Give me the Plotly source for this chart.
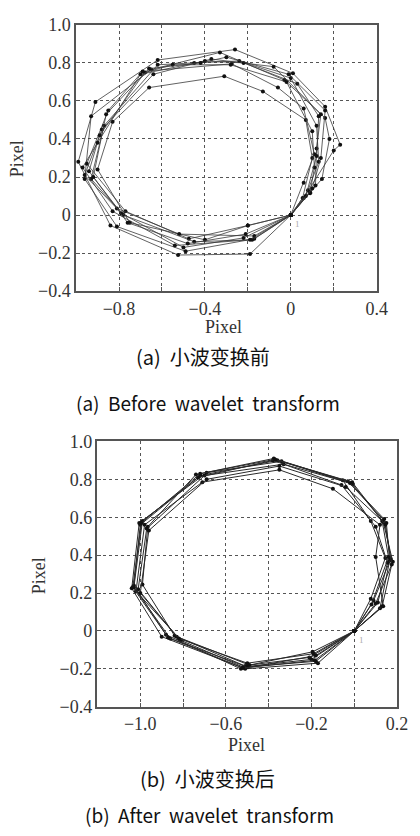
import plotly.graph_objects as go

# ---- data: (a) before wavelet transform, one list per trajectory loop ----
before_x = [
    [0, 0.06, 0.20, 0.23, 0.16, 0.01, -0.26, -0.62, -0.91, -0.99, -0.84, -0.525, -0.19, 0],
    [0, 0.09, 0.145, 0.18, 0.16, -0.03, -0.33, -0.65, -0.93, -0.96, -0.81, -0.49, -0.17, 0],
    [0, 0.055, 0.10, 0.07, -0.13, -0.31, -0.66, -0.83, -0.90, -0.75, -0.40, -0.20, 0],
    [0, 0.06, 0.11, 0.06, -0.06, -0.275, -0.69, -0.85, -0.95, -0.77, -0.475, -0.20, 0],
    [0, 0.115, 0.12, 0.14, -0.08, -0.37, -0.64, -0.88, -0.96, -0.81, -0.52, -0.17, 0],
    [0, 0.08, 0.13, 0.12, 0.0, -0.24, -0.45, -0.62, -0.87, -0.93, -0.78, -0.45, -0.18, 0],
    [0, 0.09, 0.11, 0.10, -0.02, -0.28, -0.55, -0.68, -0.89, -0.94, -0.79, -0.50, -0.22, 0],
    [0, 0.07, 0.12, 0.13, 0.03, -0.22, -0.40, -0.70, -0.90, -0.97, -0.83, -0.54, -0.19, 0],
    [0, 0.10, 0.14, 0.16, -0.01, -0.30, -0.42, -0.66, -0.86, -0.92, -0.76, -0.48, -0.21, 0],
]
before_y = [
    [0, 0.09, 0.34, 0.37, 0.57, 0.745, 0.87, 0.815, 0.595, 0.28, -0.055, -0.21, -0.205, 0],
    [0, 0.115, 0.19, 0.40, 0.51, 0.71, 0.855, 0.765, 0.52, 0.19, -0.06, -0.19, -0.125, 0],
    [0, 0.09, 0.30, 0.50, 0.65, 0.73, 0.67, 0.49, 0.24, -0.04, -0.13, -0.055, 0],
    [0, 0.17, 0.32, 0.56, 0.67, 0.795, 0.755, 0.55, 0.27, 0.02, -0.125, -0.055, 0],
    [0, 0.155, 0.35, 0.53, 0.78, 0.82, 0.74, 0.45, 0.21, 0.035, -0.10, -0.11, 0],
    [0, 0.13, 0.28, 0.47, 0.72, 0.81, 0.80, 0.79, 0.47, 0.19, 0.0, -0.14, -0.13, 0],
    [0, 0.12, 0.25, 0.44, 0.70, 0.79, 0.79, 0.75, 0.42, 0.23, 0.01, -0.17, -0.12, 0],
    [0, 0.10, 0.31, 0.52, 0.69, 0.80, 0.81, 0.74, 0.38, 0.25, 0.02, -0.16, -0.13, 0],
    [0, 0.14, 0.30, 0.55, 0.74, 0.83, 0.80, 0.77, 0.53, 0.20, -0.04, -0.15, -0.10, 0],
]

# ---- data: (b) after wavelet transform ----
after_x = [
    [0, 0.10, 0.18, 0.135, -0.009, -0.34, -0.69, -1.005, -1.04, -0.90, -0.51, -0.17, 0],
    [0, 0.077, 0.145, 0.077, -0.054, -0.376, -0.74, -0.965, -0.99, -0.84, -0.51, -0.195, 0],
    [0, 0.135, 0.10, 0.12, -0.10, -0.35, -0.71, -0.98, -1.02, -0.81, -0.52, -0.20, 0],
    [0, 0.12, 0.165, 0.15, -0.03, -0.36, -0.72, -0.99, -1.03, -0.86, -0.50, -0.18, 0],
    [0, 0.09, 0.17, 0.14, -0.02, -0.33, -0.70, -0.97, -1.01, -0.83, -0.49, -0.21, 0],
    [0, 0.11, 0.155, 0.10, -0.06, -0.38, -0.73, -1.00, -1.03, -0.88, -0.53, -0.18, 0],
    [0, 0.08, 0.16, 0.13, -0.04, -0.35, -0.69, -0.96, -1.00, -0.82, -0.50, -0.19, 0],
    [0, 0.13, 0.175, 0.145, -0.01, -0.37, -0.72, -0.995, -1.035, -0.87, -0.52, -0.185, 0],
]
after_y = [
    [0, 0.145, 0.365, 0.575, 0.775, 0.895, 0.835, 0.57, 0.225, -0.03, -0.20, -0.17, 0],
    [0, 0.17, 0.385, 0.58, 0.795, 0.91, 0.825, 0.55, 0.245, -0.025, -0.185, -0.11, 0],
    [0, 0.13, 0.39, 0.56, 0.75, 0.85, 0.785, 0.56, 0.21, -0.05, -0.19, -0.15, 0],
    [0, 0.12, 0.37, 0.57, 0.79, 0.90, 0.82, 0.58, 0.23, -0.04, -0.19, -0.16, 0],
    [0, 0.16, 0.38, 0.59, 0.78, 0.88, 0.82, 0.54, 0.22, -0.03, -0.18, -0.14, 0],
    [0, 0.15, 0.36, 0.55, 0.77, 0.90, 0.81, 0.56, 0.24, -0.02, -0.20, -0.13, 0],
    [0, 0.14, 0.39, 0.58, 0.76, 0.87, 0.80, 0.53, 0.20, -0.04, -0.17, -0.12, 0],
    [0, 0.13, 0.35, 0.56, 0.785, 0.905, 0.83, 0.57, 0.23, -0.035, -0.195, -0.155, 0],
]

top_xticks = [-1.0, -0.8, -0.6, -0.4, -0.2, 0.0, 0.2, 0.4]
top_xtext = ["", "−0.8", "", "−0.4", "", "0", "", "0.4"]
bot_xticks = [-1.2, -1.0, -0.8, -0.6, -0.4, -0.2, 0.0, 0.2]
bot_xtext = ["", "−1.0", "", "−0.6", "", "−0.2", "", "0.2"]
yticks = [-0.4, -0.2, 0.0, 0.2, 0.4, 0.6, 0.8, 1.0]
ytext = ["−0.4", "−0.2", "0", "0.2", "0.4", "0.6", "0.8", "1.0"]

captions = ["(a)  小波变换前", "(a)  Before  wavelet  transform",
            "(b)  小波变换后", "(b)  After  wavelet  transform"]
axis_title = "Pixel"

fig = go.Figure()
for xs, ys in zip(before_x, before_y):
    fig.add_trace(go.Scatter(x=xs, y=ys, xaxis="x", yaxis="y", mode="lines+markers",
                             line=dict(color="#3a3a3a", width=0.8),
                             marker=dict(color="#111", size=4), showlegend=False))
for xs, ys in zip(after_x, after_y):
    fig.add_trace(go.Scatter(x=xs, y=ys, xaxis="x2", yaxis="y2", mode="lines+markers",
                             line=dict(color="#2a2a2a", width=1),
                             marker=dict(color="#111", size=4), showlegend=False))

tickfont = dict(family="Liberation Serif", size=18, color="#333")
common = dict(showgrid=True, gridcolor="#555", griddash="dot", gridwidth=1,
              showline=True, mirror=True, linecolor="#555", linewidth=1.5,
              ticks="inside", ticklen=4, tickcolor="#555", zeroline=False,
              tickfont=tickfont, fixedrange=True)

# the page keeps the browser's default 8px body margin; the figure is sized so
# that figure + margin fills the 420x836 window exactly
W = 404.0
H = 820.0
OFF = 8.0


def px(x):
    return (x - OFF) / W


def py(y):
    return 1 - (y - OFF) / H


fig.update_layout(
    width=int(W), height=int(H), margin=dict(l=0, r=0, t=0, b=0),
    paper_bgcolor="white", plot_bgcolor="white",
    xaxis=dict(domain=[px(78), px(387)], anchor="y", range=[-1.0, 0.4],
               tickvals=top_xticks, ticktext=top_xtext, **common),
    yaxis=dict(domain=[py(288), py(15)], anchor="x", range=[-0.4, 1.0],
               tickvals=yticks, ticktext=ytext, **common),
    xaxis2=dict(domain=[px(100), px(408)], anchor="y2", range=[-1.2, 0.2],
                tickvals=bot_xticks, ticktext=bot_xtext, **common),
    yaxis2=dict(domain=[py(714), py(442)], anchor="x2", range=[-0.4, 1.0],
                tickvals=yticks, ticktext=ytext, **common),
)

titlefont = dict(family="Liberation Serif", size=18, color="#333")
capfont_cn = dict(family="Noto Sans CJK SC", size=20, color="#111")
capfont_en = dict(family="Noto Sans CJK SC", size=19, color="#111")
ann = [
    dict(text=axis_title, x=px(230), y=py(325), font=titlefont),
    dict(text=axis_title, x=px(18), y=py(152), font=titlefont, textangle=-90),
    dict(text=axis_title, x=px(253), y=py(753), font=titlefont),
    dict(text=axis_title, x=px(40), y=py(580), font=titlefont, textangle=-90),
    dict(text=captions[0], x=px(208), y=py(355), font=capfont_cn),
    dict(text=captions[1], x=px(214), y=py(402), font=capfont_en),
    dict(text=captions[2], x=px(213), y=py(787), font=capfont_cn),
    dict(text=captions[3], x=px(215), y=py(824), font=capfont_en),
]
for a in ann:
    a.update(xref="paper", yref="paper", showarrow=False, xanchor="center", yanchor="middle")
    fig.add_annotation(**a)

fig.add_annotation(text="1", x=0.03, y=-0.045, xref="x", yref="y", showarrow=False,
                   font=dict(family="Liberation Serif", size=9, color="#aaa"))
fig.add_annotation(text="1", x=0.035, y=-0.05, xref="x2", yref="y2", showarrow=False,
                   font=dict(family="Liberation Serif", size=9, color="#aaa"))

fig.write_html("out.html", config={"displayModeBar": False})
